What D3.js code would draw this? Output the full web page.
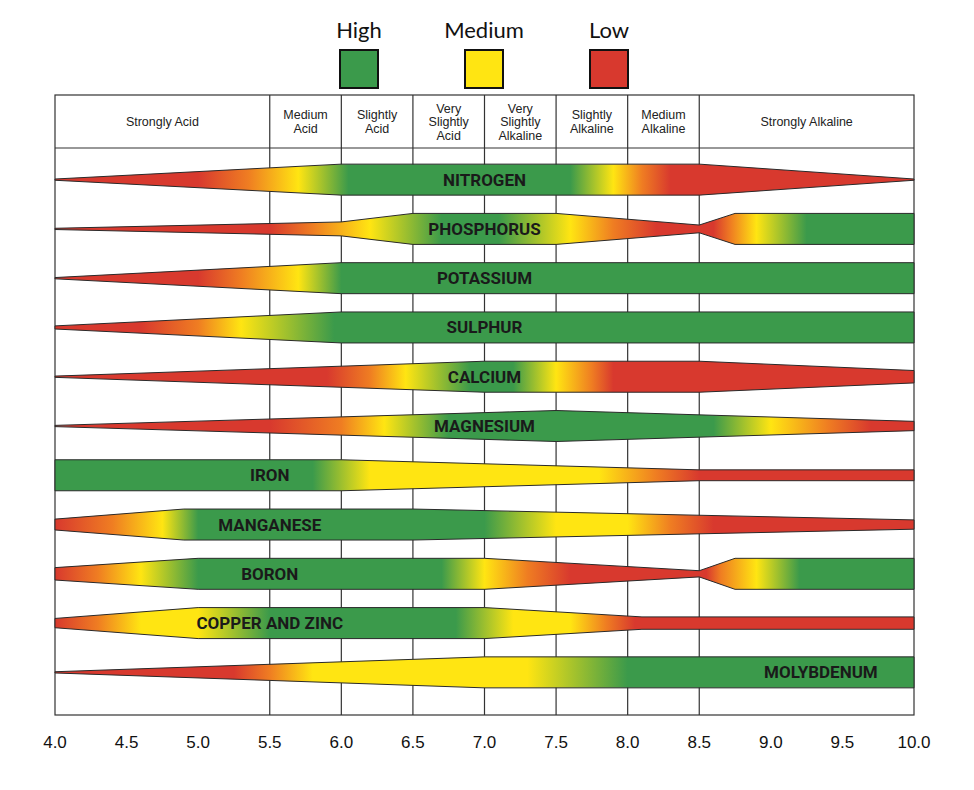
<!DOCTYPE html>
<html><head><meta charset="utf-8">
<script src="https://cdn.jsdelivr.net/npm/d3@7"></script>
<style>body{margin:0;background:#fff}</style>
</head><body>
<svg id="c" width="974" height="790"></svg>
<script>
const nutrients = ["NITROGEN","PHOSPHORUS","POTASSIUM","SULPHUR","CALCIUM","MAGNESIUM","IRON","MANGANESE","BORON","COPPER AND ZINC","MOLYBDENUM"];
const labelPH = [7.0,7.0,7.0,7.0,7.0,7.0,5.5,5.5,5.5,5.5,9.35];
// bar half-width profile: [pH, relative half width]
const shapes = [
 [[4,0.04],[6,1],[8.5,1],[10,0.04]],
 [[4,0.04],[6,0.45],[6.5,1],[7.5,1],[8.5,0.25],[8.75,1],[10,1]],
 [[4,0.04],[6,1],[10,1]],
 [[4,0.1],[6,1],[10,1]],
 [[4,0.04],[7,1],[8.5,1],[10,0.4]],
 [[4,0.04],[7.5,1],[10,0.3]],
 [[4,1],[6,1],[8.5,0.35],[10,0.35]],
 [[4,0.35],[4.9,1],[6.5,1],[10,0.3]],
 [[4,0.4],[5,1],[7,1],[8.5,0.2],[8.75,1],[10,1]],
 [[4,0.3],[5,1],[7,1],[8.1,0.4],[10,0.4]],
 [[4,0.04],[7,1],[10,1]]
];
// colour stops along pH: H = high, M = medium, L = low, O = transition
const stops = [
 [[4,"L"],[5.0,"L"],[5.35,"O"],[5.7,"M"],[6.05,"H"],[7.6,"H"],[7.9,"M"],[8.1,"O"],[8.3,"L"],[10,"L"]],
 [[4,"L"],[5.5,"L"],[5.8,"O"],[6.2,"M"],[6.7,"H"],[7.1,"H"],[7.6,"M"],[7.9,"O"],[8.2,"L"],[8.6,"L"],[8.72,"O"],[8.9,"M"],[9.25,"H"],[10,"H"]],
 [[4,"L"],[5.0,"L"],[5.3,"O"],[5.7,"M"],[6.0,"H"],[10,"H"]],
 [[4,"L"],[4.6,"L"],[5.0,"O"],[5.3,"M"],[5.95,"H"],[10,"H"]],
 [[4,"L"],[5.9,"L"],[6.2,"O"],[6.45,"M"],[6.9,"H"],[7.2,"H"],[7.5,"M"],[7.75,"O"],[7.9,"L"],[10,"L"]],
 [[4,"L"],[5.5,"L"],[6.0,"O"],[6.3,"M"],[6.75,"H"],[8.6,"H"],[9.0,"M"],[9.4,"O"],[9.7,"L"],[10,"L"]],
 [[4,"H"],[5.8,"H"],[6.2,"M"],[7.8,"M"],[8.2,"O"],[8.5,"L"],[10,"L"]],
 [[4,"L"],[4.4,"O"],[4.75,"M"],[5.0,"H"],[7.0,"H"],[7.5,"M"],[8.0,"M"],[8.3,"O"],[8.6,"L"],[10,"L"]],
 [[4,"L"],[4.3,"O"],[4.6,"M"],[5.0,"H"],[6.7,"H"],[7.0,"M"],[7.3,"O"],[7.6,"L"],[8.55,"L"],[8.65,"O"],[8.9,"M"],[9.2,"H"],[10,"H"]],
 [[4,"L"],[4.3,"O"],[4.6,"M"],[5.0,"M"],[5.5,"H"],[6.8,"H"],[7.2,"M"],[7.6,"M"],[7.85,"O"],[8.05,"L"],[10,"L"]],
 [[4,"L"],[5.25,"L"],[5.5,"O"],[5.8,"M"],[7.3,"M"],[8.0,"H"],[10,"H"]]
];
const headerBounds = [4,5.5,6,6.5,7,7.5,8,8.5,10];
const headerLabels = [["Strongly Acid"],["Medium","Acid"],["Slightly","Acid"],["Very","Slightly","Acid"],["Very","Slightly","Alkaline"],["Slightly","Alkaline"],["Medium","Alkaline"],["Strongly Alkaline"]];
const ticks = [4.0,4.5,5.0,5.5,6.0,6.5,7.0,7.5,8.0,8.5,9.0,9.5,10.0];
const legendNames = ["High","Medium","Low"];
const legendKeys = ["H","M","L"];

const col = {H:"#3b9a4b",M:"#ffe512",L:"#d8392e",O:"#ef7d22"};
const svg = d3.select("#c");
const x = d3.scaleLinear().domain([4,10]).range([55,914]);
const yTop=95, headBot=148, yBot=715;
const y = d3.scaleBand().domain(nutrients).range([155,697]).padding(0);
const H = 15.5;

// legend
const lx = d3.scalePoint().domain(legendNames).range([359,609]);
legendNames.forEach((n,i)=>{
  svg.append("text").attr("x",lx(n)).attr("y",38).attr("text-anchor","middle")
    .attr("font-family","Lato, 'Open Sans', sans-serif").attr("font-size",22).attr("fill","#111").text(n);
  svg.append("rect").attr("x",lx(n)-19).attr("y",50).attr("width",38).attr("height",38)
    .attr("fill",col[legendKeys[i]]).attr("stroke","#111").attr("stroke-width",2);
});

// frame
svg.append("rect").attr("x",x(4)).attr("y",yTop).attr("width",x(10)-x(4)).attr("height",yBot-yTop)
  .attr("fill","#fff").attr("stroke","#333").attr("stroke-width",1.2);
headerBounds.slice(1,-1).forEach(v=>{
  svg.append("line").attr("x1",x(v)).attr("x2",x(v)).attr("y1",yTop).attr("y2",yBot).attr("stroke","#333").attr("stroke-width",1.2);
});
svg.append("line").attr("x1",x(4)).attr("x2",x(10)).attr("y1",headBot).attr("y2",headBot).attr("stroke","#333").attr("stroke-width",1.2);
headerLabels.forEach((lines,i)=>{
  const cx=(x(headerBounds[i])+x(headerBounds[i+1]))/2;
  const lh=13.5, y0=(yTop+headBot)/2 - (lines.length-1)*lh/2 + 4.5;
  const t=svg.append("text").attr("text-anchor","middle").attr("font-family","'Liberation Sans', Arial, sans-serif")
    .attr("font-size",12.5).attr("fill","#222");
  lines.forEach((l,j)=>t.append("tspan").attr("x",cx).attr("y",y0+j*lh).text(l));
});

// bars
const defs=svg.append("defs");
nutrients.forEach((n,i)=>{
  const cy=y(n)+y.bandwidth()/2;
  const g=defs.append("linearGradient").attr("id","g"+i).attr("gradientUnits","userSpaceOnUse")
    .attr("x1",x(4)).attr("x2",x(10)).attr("y1",0).attr("y2",0);
  stops[i].forEach(s=>g.append("stop").attr("offset",(s[0]-4)/6).attr("stop-color",col[s[1]]));
  const pts=shapes[i];
  const topPts=pts.map(p=>[x(p[0]),cy-p[1]*H]);
  const botPts=pts.slice().reverse().map(p=>[x(p[0]),cy+p[1]*H]);
  svg.append("path").attr("d",d3.line()(topPts.concat(botPts))+"Z")
    .attr("fill","url(#g"+i+")").attr("stroke","#2a2a2a").attr("stroke-width",1);
  svg.append("text").attr("x",x(labelPH[i])).attr("y",cy+6).attr("text-anchor","middle")
    .attr("font-family","'Liberation Sans Narrow','Arial Narrow','Roboto',sans-serif").attr("font-weight","bold")
    .attr("font-size",17).attr("fill","#1a1a1a").text(n);
});

// axis ticks
ticks.forEach(t=>{
  svg.append("text").attr("x",x(t)).attr("y",748).attr("text-anchor","middle")
    .attr("font-family","'Liberation Sans', Arial, sans-serif").attr("font-size",17).attr("fill","#111").text(t.toFixed(1));
});
</script>
</body></html>
